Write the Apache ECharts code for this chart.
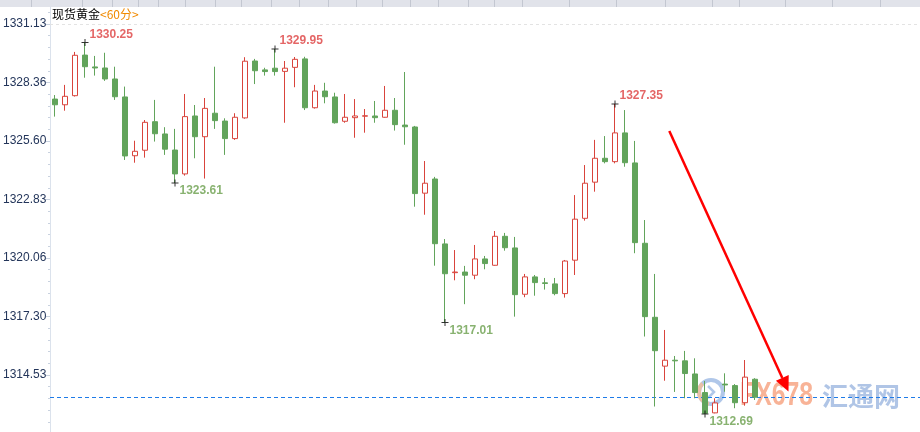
<!DOCTYPE html>
<html><head><meta charset="utf-8">
<script src="https://cdn.jsdelivr.net/npm/echarts@6/dist/echarts.min.js"></script>
<style>html,body{margin:0;padding:0;background:#fff}#c{width:920px;height:432px}</style>
</head><body><div id="c"></div>
<script>
// ---- data (hourly candles) ----
const opens  = [1327.58,1327.31,1327.74,1329.66,1329.10,1329.05,1328.53,1327.68,1324.90,1325.16,
                1326.51,1325.93,1325.17,1324.04,1326.78,1325.80,1326.91,1326.54,1325.71,1326.69,
                1329.38,1328.96,1329.04,1328.89,1329.08,1329.48,1327.17,1327.96,1327.68,1326.53,
                1326.70,1326.77,1326.78,1326.72,1327.05,1326.35,1326.26,1323.13,1323.80,1320.73,
                1319.37,1319.40,1319.25,1320.02,1319.72,1321.09,1320.54,1318.35,1319.17,1318.89,
                1318.84,1318.38,1319.96,1321.94,1323.65,1324.78,1324.62,1325.98,1324.56,1320.76,
                1317.26,1314.95,1315.23,1315.20,1314.58,1313.70,1312.74,1314.10,1314.03,1313.22,
                1314.33];
const closes = [1327.31,1327.71,1329.65,1329.11,1329.05,1328.53,1327.69,1324.89,1325.11,1326.48,
                1325.94,1325.21,1324.04,1326.75,1325.80,1327.14,1326.56,1325.71,1326.72,1329.37,
                1328.92,1328.88,1328.88,1329.04,1329.46,1327.17,1327.96,1327.69,1326.46,1326.72,
                1326.78,1326.79,1326.70,1327.05,1326.37,1326.27,1323.11,1323.60,1320.74,1319.32,
                1319.40,1319.25,1320.02,1319.80,1321.09,1320.55,1318.33,1319.17,1318.90,1318.86,
                1318.38,1319.92,1321.90,1323.60,1324.78,1324.62,1325.98,1324.57,1320.79,1317.29,
                1315.68,1315.23,1315.20,1314.60,1313.70,1312.72,1313.21,1314.06,1313.22,1314.43,
                1313.48];
const lows   = [1326.75,1327.03,1327.70,1328.59,1328.69,1328.44,1327.54,1324.70,1324.57,1324.81,
                1325.57,1324.94,1323.61,1323.96,1324.78,1323.82,1326.17,1324.94,1325.65,1326.65,
                1328.29,1328.69,1328.69,1326.46,1328.14,1327.06,1327.13,1327.38,1326.42,1326.46,
                1325.75,1325.99,1326.46,1326.70,1326.09,1325.42,1322.49,1322.11,1319.70,1317.01,
                1319.01,1317.88,1319.06,1319.53,1319.70,1320.41,1317.29,1318.21,1318.28,1318.57,
                1318.30,1318.19,1319.26,1321.83,1323.20,1324.54,1324.54,1324.38,1320.29,1316.35,
                1313.04,1314.26,1313.73,1313.43,1313.43,1312.69,1312.72,1313.74,1312.96,1313.08,
                1313.35];
const highs  = [1327.77,1328.25,1329.81,1330.25,1329.62,1329.77,1329.11,1328.17,1325.61,1326.59,
                1327.54,1326.25,1326.17,1327.82,1327.30,1327.63,1329.11,1326.67,1326.91,1329.56,
                1329.48,1329.06,1329.95,1329.38,1329.57,1329.58,1328.25,1328.35,1327.88,1327.82,
                1327.58,1327.11,1327.49,1328.20,1327.63,1328.86,1326.31,1324.65,1323.90,1320.96,
                1320.44,1319.69,1320.68,1320.16,1321.34,1321.25,1321.06,1319.31,1319.26,1319.12,
                1319.12,1319.97,1323.04,1324.46,1325.65,1325.83,1327.35,1327.06,1325.60,1321.86,
                1319.31,1316.66,1315.43,1315.67,1315.32,1314.25,1313.43,1314.61,1314.10,1315.24,
                1314.38];
const categories = opens.map((_, i) => 'K' + (i + 1));
const yTickLabels = [1314.53, 1317.30, 1320.06, 1322.83, 1325.60, 1328.36, 1331.13];
const highMarkIdx = [3, 22, 56];
const lowMarkIdx  = [12, 39, 65];
const titleMain = '现货黄金';
const titlePeriod = '<60分>';
const wmLatin = 'FX678';
const wmCJK = '汇通网';

// ---- build ----
const RED = '#d9443c', GREEN = '#62a45b';
const candleData = opens.map((o, i) => [o, closes[i], lows[i], highs[i]]);
const highPts = highMarkIdx.map(i => [i, highs[i]]);
const lowPts  = lowMarkIdx.map(i => [i, lows[i]]);
const step = (yTickLabels[yTickLabels.length - 1] - yTickLabels[0]) / ((yTickLabels.length - 1) * 5);
const minorTicks = [];
for (let k = -4; k <= 31; k++) {
  if (k % 5 === 0) continue;
  const v = yTickLabels[0] + k * step;
  if (v > 1311.85 && v < 1331.9) minorTicks.push(+v.toFixed(4));
}
const plus = 'path://M0,3h7v1h-7zM3,0h1v7h-1z';
const numFont = '"Liberation Sans", Arial, sans-serif';
const lastLineStyle = {color: '#1e7be8', type: [4, 3], width: 1, opacity: 1};

const chart = echarts.init(document.getElementById('c'), null, {renderer: 'canvas'});
const seps = [31,82,112,138,158,185,215,241,271,299,328,356,382,410,438,468,494,522,569,616,665,712,739,785,832,880];
const graphics = [
  {type: 'rect', shape: {x: 0, y: 0, width: 920, height: 7}, style: {fill: '#e1e3ea'}, z: 0},
  ...seps.map(x => ({type: 'line', shape: {x1: x + 0.5, y1: 0, x2: x + 0.5, y2: 7}, style: {stroke: '#c3c7d1', lineWidth: 1}, z: 1})),
  {type: 'text', x: 52, y: 14, style: {text: titleMain, fill: '#000', font: '12px "Noto Sans CJK SC", sans-serif', verticalAlign: 'middle'}},
  {type: 'text', x: 100, y: 14, style: {text: titlePeriod, fill: '#f08a00', font: '12px "Noto Sans CJK SC", sans-serif', verticalAlign: 'middle'}},
  // arrow annotation
  {type: 'line', shape: {x1: 669.3, y1: 131, x2: 782.3, y2: 378}, style: {stroke: '#ff0000', lineWidth: 2.5}, z: 20},
  {type: 'polygon', shape: {points: [[775.9, 380.8], [788.7, 375.0], [788.5, 391.5]]}, style: {fill: '#ff0000'}, z: 20},
  // watermark
  {type: 'group', z: 30, children: [
    {type: 'circle', shape: {cx: 711, cy: 392, r: 12}, style: {fill: 'rgba(255,255,255,0.35)', stroke: 'rgba(150,180,225,0.75)', lineWidth: 4}},
    {type: 'arc', shape: {cx: 711, cy: 392, r: 12, startAngle: Math.PI * 0.55, endAngle: Math.PI * 1.25}, style: {stroke: 'rgba(246,190,150,0.8)', lineWidth: 4, fill: 'none'}},
    {type: 'polyline', shape: {points: [[708, 386], [714, 392], [708, 398]]}, style: {stroke: 'rgba(150,180,225,0.75)', lineWidth: 2.5, fill: 'none'}},
    {type: 'text', x: 740, y: 396, scaleX: 0.73, style: {text: wmLatin, fill: 'rgba(246,160,125,0.8)', font: 'bold 34px "Liberation Sans", Arial, sans-serif', verticalAlign: 'middle'}},
    {type: 'text', x: 822, y: 396, style: {text: wmCJK, fill: 'rgba(150,178,222,0.75)', font: 'bold 26px "Noto Sans CJK SC", sans-serif', verticalAlign: 'middle'}}
  ]}
];

chart.setOption({
  animation: false,
  backgroundColor: '#fff',
  grid: {left: 49, right: 0, top: 7, bottom: 0, containLabel: false},
  xAxis: {
    type: 'category', data: categories, max: 86, boundaryGap: true,
    axisLine: {show: false}, axisTick: {show: false}, axisLabel: {show: false}, splitLine: {show: false}
  },
  yAxis: [{
    type: 'value', min: 1311.835, max: 1331.934, position: 'left', scale: true,
    axisLine: {show: true, lineStyle: {color: '#dbe2ec'}},
    axisTick: {show: true, length: 4, customValues: yTickLabels, lineStyle: {color: '#c9d2df'}},
    axisLabel: {show: true, customValues: yTickLabels, align: 'left', margin: 47,
      color: '#23355a', fontSize: 12, fontFamily: numFont, formatter: v => Number(v).toFixed(2)},
    splitLine: {show: false}
  }, {
    type: 'value', min: 1311.835, max: 1331.934, position: 'left', scale: true,
    axisLine: {show: false},
    axisTick: {show: true, length: 2, customValues: minorTicks, lineStyle: {color: '#c9d2df'}},
    axisLabel: {show: false}, splitLine: {show: false}
  }],
  series: [{
    type: 'candlestick', data: candleData, barWidth: 6,
    itemStyle: {color: '#ffffff', color0: GREEN, borderColor: RED, borderColor0: GREEN, borderWidth: 1},
    z: 5
  }, {
    type: 'line', data: [], silent: true, z: 7,
    markLine: {
      silent: true, symbol: ['none', 'none'], label: {show: false},
      lineStyle: lastLineStyle,
      emphasis: {disabled: true},
      data: [{yAxis: closes[closes.length - 1], lineStyle: lastLineStyle}]
    }
  }, {
    type: 'scatter', data: highPts, symbol: plus, symbolSize: 7, itemStyle: {color: '#000'}, z: 6,
    label: {show: true, position: 'right', distance: 1, offset: [0, -8], color: '#dd4040',
      fontSize: 12, fontWeight: 'bold', fontFamily: numFont, formatter: p => p.value[1].toFixed(2)},
    markLine: {
      silent: true, symbol: 'none', label: {show: false},
      lineStyle: {color: '#e3e3e3', type: [3, 3], width: 1},
      data: [{yAxis: yTickLabels[yTickLabels.length - 1]}]
    }
  }, {
    type: 'scatter', data: lowPts, symbol: plus, symbolSize: 7, itemStyle: {color: '#000'}, z: 6,
    label: {show: true, position: 'right', distance: 1, offset: [0, 8], color: '#6a9f4c',
      fontSize: 12, fontWeight: 'bold', fontFamily: numFont, formatter: p => p.value[1].toFixed(2)}
  }],
  graphic: graphics
});
</script>
</body></html>
